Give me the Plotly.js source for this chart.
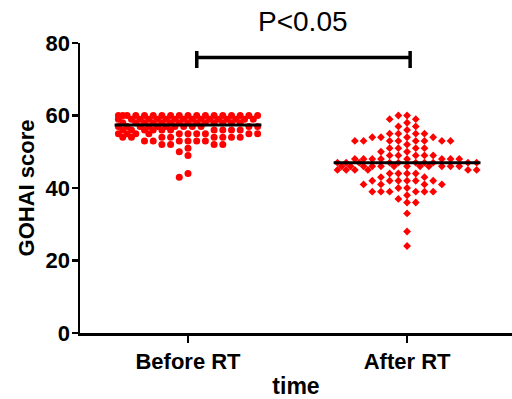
<!DOCTYPE html>
<html>
<head>
<meta charset="utf-8">
<script src="https://cdn.plot.ly/plotly-3.0.1.min.js"></script>
<style>html,body{margin:0;padding:0;background:#fff;}#chart{width:512px;height:399px;}</style>
</head>
<body>
<div id="chart"></div>
<script>
// ---- data ----
const categories = ['Before RT', 'After RT'];
const beforeValues = [60, 59, 58, 57, 56, 55, 54, 53, 52, 51, 50, 49, 44, 43];
const beforeCounts = [18, 16, 14, 12, 10, 10, 8, 6, 4, 1, 1, 1, 1, 1];
const afterValues = [60, 59, 58, 57, 56, 55, 54, 53, 52, 51, 50, 49, 48, 47, 46, 45, 44, 43, 42, 41, 40, 39, 38, 37, 36, 33, 28, 24];
const afterCounts = [2, 2, 1, 2, 1, 4, 4, 8, 1, 4, 2, 5, 8, 10, 12, 6, 4, 2, 6, 4, 2, 6, 1, 1, 2, 1, 1, 1];
const centerLines = [57.4, 47];
const yTicks = [0, 20, 40, 60, 80];
const pText = 'P<0.05';

// ---- layout geometry ----
const W = 512, H = 399;
const margin = {l: 80, r: 0, t: 43, b: 66};
const xRange = [-0.493, 1.479];
const yRange = [0, 80];
const pxPerX = (W - margin.l - margin.r) / (xRange[1] - xRange[0]);
const pxPerY = (H - margin.t - margin.b) / (yRange[1] - yRange[0]);

// deterministic dot-plot (beeswarm) offsets, in pixels, from the values
function swarm(values, counts) {
  const s = 8.7, D = 7.0, maxK = 8;
  const placed = [];
  const out = [];
  values.forEach((v, i) => {
    for (let j = 0; j < counts[i]; j++) {
      const y = v * pxPerY;
      const minDist = (x) => {
        let m = Infinity;
        for (const p of placed) {
          const d = Math.hypot(p.x - x, p.y - y);
          if (d < m) m = d;
        }
        return m;
      };
      let chosen = null;
      const order = [0];
      for (let k = 1; k <= maxK; k++) { order.push(-k, k); }
      for (const k of order) {
        const x = k * s;
        if (minDist(x) >= D) { chosen = x; break; }
      }
      if (chosen === null) {
        let best = -1;
        for (let h = -2 * maxK; h <= 2 * maxK; h++) {
          const x = h * s / 2;
          const md = minDist(x);
          if (md > best + 1e-6) { best = md; chosen = x; }
        }
      }
      placed.push({x: chosen, y: y});
      out.push({v: v, dx: chosen});
    }
  });
  return out;
}

function groupTrace(values, counts, idx, symbol, size) {
  const pts = swarm(values, counts);
  return {
    type: 'scatter', mode: 'markers',
    x: pts.map(p => idx + p.dx / pxPerX),
    y: pts.map(p => p.v),
    marker: {color: '#ff0000', symbol: symbol, size: size, line: {width: 0}},
    cliponaxis: false, hoverinfo: 'skip'
  };
}

const traces = [
  groupTrace(beforeValues, beforeCounts, 0, 'circle', 7),
  groupTrace(afterValues, afterCounts, 1, 'diamond', 6)
];
centerLines.forEach((m, i) => {
  traces.push({
    type: 'scatter', mode: 'lines',
    x: [i - 0.335, i + 0.335], y: [m, m],
    line: {color: '#000', width: 3}, hoverinfo: 'skip', cliponaxis: false
  });
});

const boldFont = (sz) => ({family: 'Liberation Sans, Arial, sans-serif', size: sz, color: '#000', weight: 'bold'});
const bx0 = 0.04, bx1 = 1.014, by = 76, byLo = 73.1, byHi = 77.8;
const pY = 85.8;

const layout = {
  width: W, height: H,
  margin: margin,
  paper_bgcolor: '#fff', plot_bgcolor: '#fff',
  showlegend: false,
  xaxis: {
    range: xRange, tickvals: [0, 1], ticktext: categories,
    showline: true, linecolor: '#000', linewidth: 2.5,
    ticks: 'outside', ticklen: 7, tickwidth: 2.5, tickcolor: '#000',
    showgrid: false, zeroline: false,
    tickfont: boldFont(22),
    title: {text: 'time', font: boldFont(23), standoff: 16},
    automargin: false
  },
  yaxis: {
    range: yRange, tickvals: yTicks,
    showline: true, linecolor: '#000', linewidth: 2.5,
    ticks: 'outside', ticklen: 6, tickwidth: 2.5, tickcolor: '#000',
    showgrid: false, zeroline: false,
    tickfont: boldFont(22), ticklabelstandoff: -3,
    title: {text: 'GOHAI score', font: boldFont(22), standoff: 5},
    automargin: false
  },
  shapes: [
    {type: 'line', xref: 'x', yref: 'y', x0: bx0, x1: bx1, y0: by, y1: by, line: {color: '#000', width: 3.5}},
    {type: 'line', xref: 'x', yref: 'y', x0: bx0, x1: bx0, y0: byLo, y1: byHi, line: {color: '#000', width: 3.5}},
    {type: 'line', xref: 'x', yref: 'y', x0: bx1, x1: bx1, y0: byLo, y1: byHi, line: {color: '#000', width: 3.5}}
  ],
  annotations: [
    {xref: 'x', yref: 'paper', x: (bx0 + bx1) / 2, y: (pY - yRange[0]) / (yRange[1] - yRange[0]),
     text: pText, showarrow: false, xanchor: 'center', yanchor: 'middle',
     font: {family: 'Liberation Sans, Arial, sans-serif', size: 28, color: '#000'}}
  ]
};

Plotly.newPlot('chart', traces, layout, {staticPlot: true, displayModeBar: false});
</script>
</body>
</html>
